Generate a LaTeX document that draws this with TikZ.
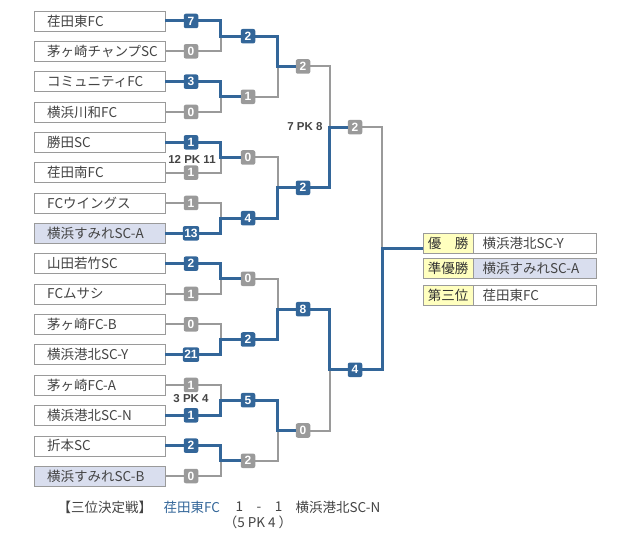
\documentclass[tikz,border=0pt]{standalone}
\usepackage{fontspec}
\setmainfont{Noto Sans CJK JP}
\newfontfamily\numfont{Liberation Sans}
\usepackage{xcolor}
\usepackage{tikz}
\usetikzlibrary{positioning}

\definecolor{winblue}{HTML}{336699}
\definecolor{losegray}{HTML}{9A9A9A}
\definecolor{txtgray}{HTML}{444444}
\definecolor{clubfill}{HTML}{D9DEEE}
\definecolor{rankfill}{HTML}{FFFFBF}

\begin{document}
\begin{tikzpicture}[x=1pt, y=-1pt,
  team/.style={draw=losegray, fill=#1, anchor=west, minimum height=20pt, inner ysep=0pt,
               inner xsep=13pt, text width=105pt, align=left, text=txtgray,
               font=\fontsize{13.5}{14}\selectfont},
  team/.default=white,
  winner/.style={team=#1, inner xsep=9pt},
  winner/.default=white,
  rank/.style={draw=losegray, fill=rankfill, anchor=west, minimum width=50pt, minimum height=20pt,
               inner sep=0pt, text=black!80, font=\fontsize{13.5}{14}\selectfont},
  score/.style={fill=#1, rounded corners=2pt, minimum width=14.5pt, minimum height=14.5pt,
                inner xsep=1.5pt, inner ysep=0pt, text=white,
                font=\numfont\bfseries\fontsize{12}{12}\selectfont},
  pk/.style={text=txtgray, font=\numfont\bfseries\fontsize{11.5}{12}\selectfont},
  win/.style={draw=winblue, line width=3pt},
  lose/.style={draw=losegray, line width=2pt},
  note/.style={text=txtgray, font=\fontsize{13.5}{14}\selectfont}
]
  \useasboundingbox (0,0) rectangle (630,540);

  % Teams
  \node[team] (t1) at (34,21.0) {荏田東FC};
  \node[team] (t2) at (34,51.3) {茅ヶ崎チャンプSC};
  \node[team] (t3) at (34,81.7) {コミュニティFC};
  \node[team] (t4) at (34,112.0) {横浜川和FC};
  \node[team] (t5) at (34,142.3) {勝田SC};
  \node[team] (t6) at (34,172.7) {荏田南FC};
  \node[team] (t7) at (34,203.0) {FCウイングス};
  \node[team=clubfill] (t8) at (34,233.3) {横浜すみれSC-A};
  \node[team] (t9) at (34,263.7) {山田若竹SC};
  \node[team] (t10) at (34,294.0) {FCムサシ};
  \node[team] (t11) at (34,324.3) {茅ヶ崎FC-B};
  \node[team] (t12) at (34,354.7) {横浜港北SC-Y};
  \node[team] (t13) at (34,385.0) {茅ヶ崎FC-A};
  \node[team] (t14) at (34,415.3) {横浜港北SC-N};
  \node[team] (t15) at (34,445.7) {折本SC};
  \node[team=clubfill] (t16) at (34,476.0) {横浜すみれSC-B};

  % Round 1 scores
  \node[score=winblue] (s1) at (191,21.0) {7};
  \node[score=losegray] (s2) at (191,51.3) {0};
  \node[score=winblue] (s3) at (191,81.7) {3};
  \node[score=losegray] (s4) at (191,112.0) {0};
  \node[score=winblue] (s5) at (191,142.3) {1};
  \node[score=losegray] (s6) at (191,172.7) {1};
  \node[score=losegray] (s7) at (191,203.0) {1};
  \node[score=winblue] (s8) at (191,233.3) {13};
  \node[score=winblue] (s9) at (191,263.7) {2};
  \node[score=losegray] (s10) at (191,294.0) {1};
  \node[score=losegray] (s11) at (191,324.3) {0};
  \node[score=winblue] (s12) at (191,354.7) {21};
  \node[score=losegray] (s13) at (191,385.0) {1};
  \node[score=winblue] (s14) at (191,415.3) {1};
  \node[score=winblue] (s15) at (191,445.7) {2};
  \node[score=losegray] (s16) at (191,476.0) {0};

  % Round 2 scores
  \node[score=winblue] (q1) at (248,36.2) {2};
  \node[score=losegray] (q2) at (248,96.8) {1};
  \node[score=losegray] (q3) at (248,157.5) {0};
  \node[score=winblue] (q4) at (248,218.2) {4};
  \node[score=losegray] (q5) at (248,278.8) {0};
  \node[score=winblue] (q6) at (248,339.5) {2};
  \node[score=winblue] (q7) at (248,400.2) {5};
  \node[score=losegray] (q8) at (248,460.8) {2};

  % Quarter finals and semi finals
  \node[score=losegray] (k1) at (303,66.5) {2};
  \node[score=winblue] (k2) at (303,187.8) {2};
  \node[score=winblue] (k3) at (303,309.2) {8};
  \node[score=losegray] (k4) at (303,430.5) {0};
  \node[score=losegray] (f1) at (355,127.2) {2};
  \node[score=winblue] (f2) at (355,369.8) {4};

  % PK
  \node[pk] (pk1) at (192,159) {12 PK 11};
  \node[pk, anchor=east] (pk2) at (326,127) {7 PK 8};
  \node[pk] (pk3) at (191,399) {3 PK 4};

  % Results
  \node[rank] (r1) at (423,243.0) {優　勝};
  \node[winner, right=0pt of r1] (w1) {横浜港北SC-Y};
  \node[rank] (r2) at (423,268.5) {準優勝};
  \node[winner=clubfill, right=0pt of r2] (w2) {横浜すみれSC-A};
  \node[rank] (r3) at (423,295.5) {第三位};
  \node[winner, right=0pt of r3] (w3) {荏田東FC};
  \coordinate (fin) at (382,248.5);

  % Lines, round 1
  \draw[lose] (t2.east) -- (s2.west);
  \draw[lose] (s2.east) -| ([xshift=-20pt]q1.west);
  \draw[win] (t1.east) -- (s1.west);
  \draw[win] (s1.east) -| ([xshift=-20pt]q1.west) -- (q1.west);
  \draw[lose] (t4.east) -- (s4.west);
  \draw[lose] (s4.east) -| ([xshift=-20pt]q2.west);
  \draw[win] (t3.east) -- (s3.west);
  \draw[win] (s3.east) -| ([xshift=-20pt]q2.west) -- (q2.west);
  \draw[lose] (t6.east) -- (s6.west);
  \draw[lose] (s6.east) -| ([xshift=-20pt]q3.west);
  \draw[win] (t5.east) -- (s5.west);
  \draw[win] (s5.east) -| ([xshift=-20pt]q3.west) -- (q3.west);
  \draw[lose] (t7.east) -- (s7.west);
  \draw[lose] (s7.east) -| ([xshift=-20pt]q4.west);
  \draw[win] (t8.east) -- (s8.west);
  \draw[win] (s8.east) -| ([xshift=-20pt]q4.west) -- (q4.west);
  \draw[lose] (t10.east) -- (s10.west);
  \draw[lose] (s10.east) -| ([xshift=-20pt]q5.west);
  \draw[win] (t9.east) -- (s9.west);
  \draw[win] (s9.east) -| ([xshift=-20pt]q5.west) -- (q5.west);
  \draw[lose] (t11.east) -- (s11.west);
  \draw[lose] (s11.east) -| ([xshift=-20pt]q6.west);
  \draw[win] (t12.east) -- (s12.west);
  \draw[win] (s12.east) -| ([xshift=-20pt]q6.west) -- (q6.west);
  \draw[lose] (t13.east) -- (s13.west);
  \draw[lose] (s13.east) -| ([xshift=-20pt]q7.west);
  \draw[win] (t14.east) -- (s14.west);
  \draw[win] (s14.east) -| ([xshift=-20pt]q7.west) -- (q7.west);
  \draw[lose] (t16.east) -- (s16.west);
  \draw[lose] (s16.east) -| ([xshift=-20pt]q8.west);
  \draw[win] (t15.east) -- (s15.west);
  \draw[win] (s15.east) -| ([xshift=-20pt]q8.west) -- (q8.west);

  % Lines, round 2
  \draw[lose] (q2.east) -| ([xshift=-18pt]k1.west);
  \draw[win] (q1.east) -| ([xshift=-18pt]k1.west) -- (k1.west);
  \draw[lose] (q3.east) -| ([xshift=-18pt]k2.west);
  \draw[win] (q4.east) -| ([xshift=-18pt]k2.west) -- (k2.west);
  \draw[lose] (q5.east) -| ([xshift=-18pt]k3.west);
  \draw[win] (q6.east) -| ([xshift=-18pt]k3.west) -- (k3.west);
  \draw[lose] (q8.east) -| ([xshift=-18pt]k4.west);
  \draw[win] (q7.east) -| ([xshift=-18pt]k4.west) -- (k4.west);

  % Lines, semi finals and final
  \draw[lose] (k1.east) -| ([xshift=-18pt]f1.west);
  \draw[win] (k2.east) -| ([xshift=-18pt]f1.west) -- (f1.west);
  \draw[lose] (k4.east) -| ([xshift=-18pt]f2.west);
  \draw[win] (k3.east) -| ([xshift=-18pt]f2.west) -- (f2.west);
  \draw[lose] (f1.east) -| (fin);
  \draw[win] (f2.east) -| (fin) -- (fin -| r1.west);

  % Third place match
  \node[note, anchor=west] (tp) at (54,507) {【三位決定戦】};
  \node[note, anchor=west, text=winblue] (tpa) at (160,507) {荏田東FC};
  \node[note] (tps) at (259,507) {1　-　1};
  \node[note, anchor=west] (tpb) at (292,507) {横浜港北SC-N};
  \node[note] (tpk) at (258,522) {（5 PK 4 ）};
\end{tikzpicture}
\end{document}
